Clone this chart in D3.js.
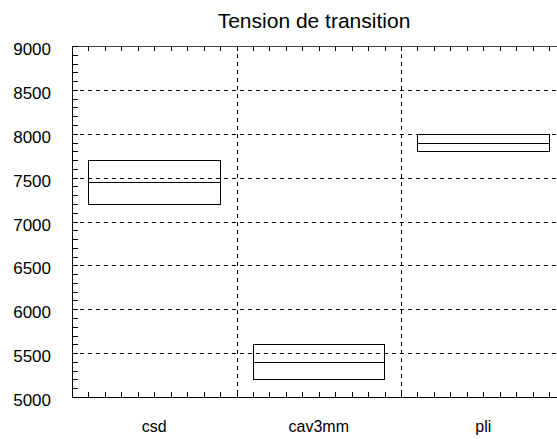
<!DOCTYPE html>
<html><head><meta charset="utf-8">
<script src="https://cdn.jsdelivr.net/npm/d3@7"></script>
<style>body{margin:0;background:#fff}svg{display:block}</style>
</head><body>
<script>
const categories = ["csd", "cav3mm", "pli"];
const lower = [7200, 5200, 7800];
const median = [7450, 5400, 7900];
const upper = [7700, 5600, 8000];
const yTicks = [5000, 5500, 6000, 6500, 7000, 7500, 8000, 8500, 9000];
const title = "Tension de transition";

(function () {
const W = 557, H = 439;
const pL = 72, pR = 565.5, pT = 46, pB = 397;
const svg = d3.select("body").append("svg").attr("width", W).attr("height", H);
const font = "Liberation Sans, Arial, Helvetica, sans-serif";

const x = d3.scaleBand().domain(categories).range([pL, pR]).paddingInner(0).paddingOuter(0);
const y = d3.scaleLinear().domain([5000, 9000]).range([pB, pT]);

// grid
const grid = svg.append("g").attr("stroke", "#000").attr("stroke-width", 1).attr("stroke-dasharray", "4,4");
grid.selectAll(".h").data(yTicks.filter(v => v > 5000 && v < 9000)).join("line")
  .attr("x1", pL).attr("x2", pR).attr("y1", d => Math.round(y(d)) + 0.5).attr("y2", d => Math.round(y(d)) + 0.5);
grid.selectAll(".v").data(categories.slice(1)).join("line")
  .attr("x1", d => Math.round(x(d)) + 0.5).attr("x2", d => Math.round(x(d)) + 0.5).attr("y1", pT).attr("y2", pB);

// frame
svg.append("line").attr("x1", pL + 0.5).attr("x2", pL + 0.5).attr("y1", pT).attr("y2", pB).attr("stroke", "#000");
svg.append("line").attr("x1", pL).attr("x2", pR).attr("y1", pB + 0.5).attr("y2", pB + 0.5).attr("stroke", "#000");
svg.append("line").attr("x1", pL).attr("x2", pR).attr("y1", pT + 0.5).attr("y2", pT + 0.5).attr("stroke", "#444");

// y axis minor ticks
const yMinor = d3.range(5000, 9001, 100);
svg.append("g").selectAll("line").data(yMinor).join("line")
  .attr("x1", pL).attr("x2", pL + 6)
  .attr("y1", d => Math.round(y(d)) + 0.5).attr("y2", d => Math.round(y(d)) + 0.5)
  .attr("stroke", "#000");

// x minor ticks (10 per category)
const xMinor = d3.range(0, categories.length * 10 + 1).map(i => pL + i * x.bandwidth() / 10);
svg.append("g").selectAll("line").data(xMinor).join("line")
  .attr("x1", d => Math.round(d) + 0.5).attr("x2", d => Math.round(d) + 0.5)
  .attr("y1", pT).attr("y2", pT + 5).attr("stroke", "#000");
svg.append("g").selectAll("line").data(xMinor).join("line")
  .attr("x1", d => Math.round(d) + 0.5).attr("x2", d => Math.round(d) + 0.5)
  .attr("y1", pB).attr("y2", pB - 5).attr("stroke", "#000");

// y labels
svg.append("g").selectAll("text").data(yTicks).join("text")
  .attr("x", 51).attr("y", d => y(d) + 9)
  .attr("text-anchor", "end").attr("font-family", font).attr("font-size", 17).text(d => d);

// x labels
svg.append("g").selectAll("text").data(categories).join("text")
  .attr("x", d => x(d) + x.bandwidth() / 2).attr("y", 432)
  .attr("text-anchor", "middle").attr("font-family", font).attr("font-size", 16).text(d => d);

// title
svg.append("text").attr("x", 314).attr("y", 28).attr("text-anchor", "middle")
  .attr("font-family", font).attr("font-size", 21).text(title);

// boxes
const bw = x.bandwidth();
const g = svg.append("g").attr("fill", "none").attr("stroke", "#000").attr("stroke-width", 1);
categories.forEach((c, i) => {
  const x0 = Math.round(x(c) + 16) + 0.5, x1 = Math.round(x(c) + bw - 17) + 0.5;
  g.append("rect").attr("x", x0).attr("y", Math.round(y(upper[i])) + 0.5)
    .attr("width", x1 - x0).attr("height", Math.round(y(lower[i])) - Math.round(y(upper[i])));
  g.append("line").attr("x1", x0).attr("x2", x1)
    .attr("y1", Math.round(y(median[i])) + 0.5).attr("y2", Math.round(y(median[i])) + 0.5);
});
})();
</script>
</body></html>
